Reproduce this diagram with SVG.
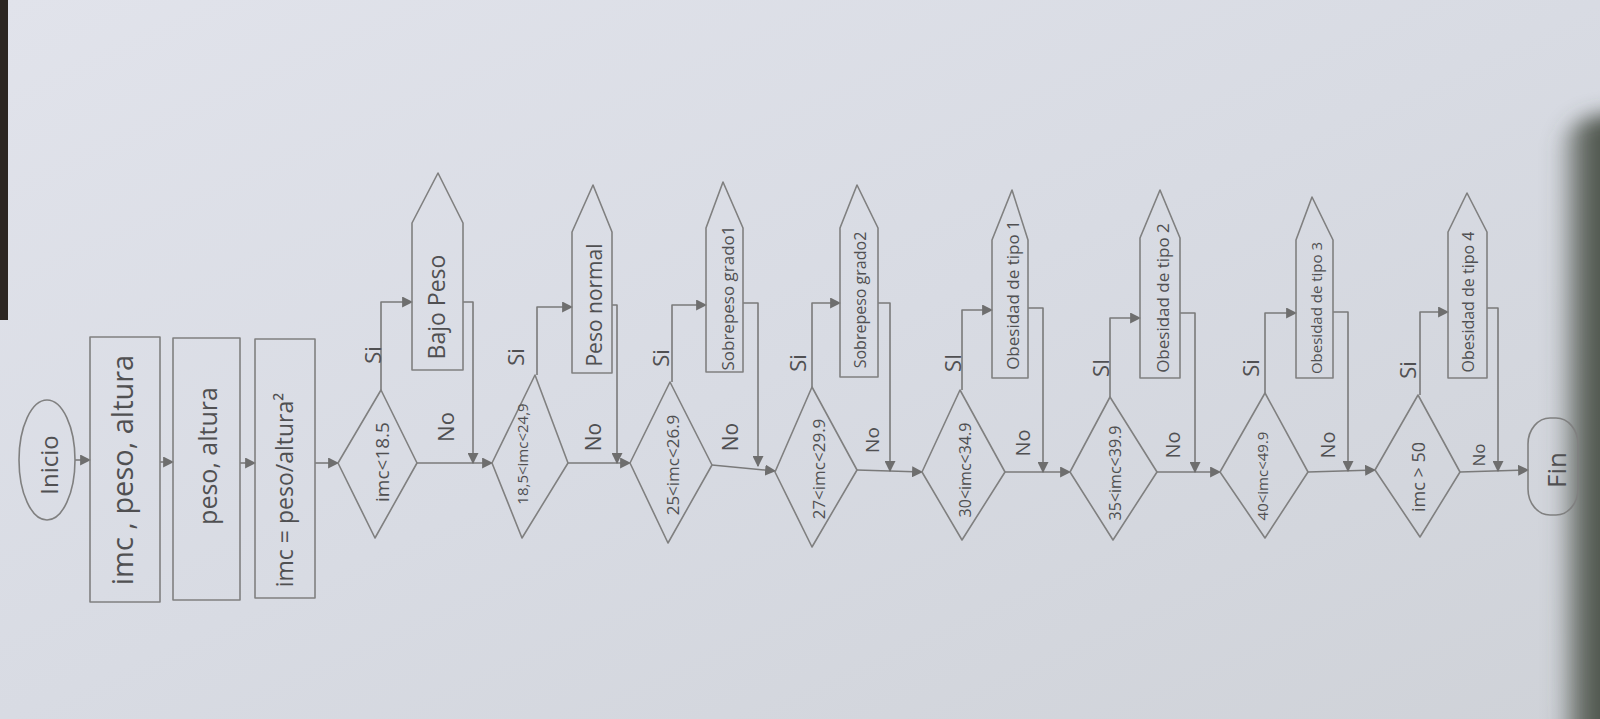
<svg xmlns="http://www.w3.org/2000/svg" width="1600" height="719" viewBox="0 0 1600 719">
<defs>
<linearGradient id="paper" x1="0" y1="0" x2="1" y2="1">
<stop offset="0" stop-color="#e1e3eb"/>
<stop offset="0.5" stop-color="#d8dbe3"/>
<stop offset="1" stop-color="#cfd2d8"/>
</linearGradient>
<linearGradient id="shade" x1="0" y1="0" x2="1" y2="0">
<stop offset="0" stop-color="#4a5147" stop-opacity="0"/>
<stop offset="0.35" stop-color="#4a5147" stop-opacity="0.85"/>
<stop offset="1" stop-color="#353b33"/>
</linearGradient>
<filter id="blur" x="-50%" y="-50%" width="200%" height="200%"><feGaussianBlur stdDeviation="10"/></filter>
<marker id="ah" viewBox="0 0 10 10" refX="9" refY="5" markerWidth="11" markerHeight="11" markerUnits="userSpaceOnUse" orient="auto">
<path d="M0,0 L10,5 L0,10 z" fill="#6e6e6e"/>
</marker>
<style>
.ln{fill:none;stroke:#7a7a7a;stroke-width:1.6;stroke-linejoin:round}
.sh{fill:none;stroke:#808080;stroke-width:1.6;stroke-linejoin:round}
.t{font-family:"Open Sans","Liberation Sans",sans-serif;fill:#505052;text-anchor:middle;dominant-baseline:central}
</style>
</defs>
<rect width="1600" height="719" fill="url(#paper)"/>
<rect x="0" y="0" width="8" height="320" fill="#2c2622"/>
<path d="M1556,150 C1565,118 1600,110 1640,115 L1640,760 L1560,760 Z" fill="url(#shade)" filter="url(#blur)"/>

<g id="connectors">
<path class="ln" d="M75,460 L90,460" marker-end="url(#ah)"/>
<path class="ln" d="M160,462 L173,462" marker-end="url(#ah)"/>
<path class="ln" d="M240,463 L255,463" marker-end="url(#ah)"/>
<path class="ln" d="M315,463 L338,463" marker-end="url(#ah)"/>

<path class="ln" d="M417,463 L492,463" marker-end="url(#ah)"/>
<path class="ln" d="M568,463 L630,463" marker-end="url(#ah)"/>
<path class="ln" d="M712,465 L775,471" marker-end="url(#ah)"/>
<path class="ln" d="M857,470 L922,472" marker-end="url(#ah)"/>
<path class="ln" d="M1005,472 L1070,472" marker-end="url(#ah)"/>
<path class="ln" d="M1157,472 L1220,472" marker-end="url(#ah)"/>
<path class="ln" d="M1308,472 L1375,470" marker-end="url(#ah)"/>
<path class="ln" d="M1460,472 L1528,470" marker-end="url(#ah)"/>

<path class="ln" d="M381,390 L381,302 L412,302" marker-end="url(#ah)"/>
<path class="ln" d="M537,375 L537,307 L572,307" marker-end="url(#ah)"/>
<path class="ln" d="M672,382 L672,305 L706,305" marker-end="url(#ah)"/>
<path class="ln" d="M812,387 L812,303 L840,303" marker-end="url(#ah)"/>
<path class="ln" d="M962,390 L962,310 L992,310" marker-end="url(#ah)"/>
<path class="ln" d="M1110,397 L1110,318 L1140,318" marker-end="url(#ah)"/>
<path class="ln" d="M1265,393 L1265,313 L1296,313" marker-end="url(#ah)"/>
<path class="ln" d="M1420,395 L1420,312 L1448,312" marker-end="url(#ah)"/>

<path class="ln" d="M463,302 L473,302 L473,463" marker-end="url(#ah)"/>
<path class="ln" d="M612,305 L617,305 L617,463" marker-end="url(#ah)"/>
<path class="ln" d="M743,303 L758,303 L758,466" marker-end="url(#ah)"/>
<path class="ln" d="M878,303 L890,303 L890,471" marker-end="url(#ah)"/>
<path class="ln" d="M1028,308 L1043,308 L1043,472" marker-end="url(#ah)"/>
<path class="ln" d="M1180,313 L1195,313 L1195,472" marker-end="url(#ah)"/>
<path class="ln" d="M1333,312 L1348,312 L1348,471" marker-end="url(#ah)"/>
<path class="ln" d="M1487,308 L1498,308 L1498,471" marker-end="url(#ah)"/>

<text class="t" font-size="22" transform="translate(372,355) rotate(-90)">Si</text>
<text class="t" font-size="22" transform="translate(515,357) rotate(-90)">Si</text>
<text class="t" font-size="22" transform="translate(660,358) rotate(-90)">Si</text>
<text class="t" font-size="22" transform="translate(797,363) rotate(-90)">Si</text>
<text class="t" font-size="22" transform="translate(952,363) rotate(-90)">SI</text>
<text class="t" font-size="22" transform="translate(1100,368) rotate(-90)">SI</text>
<text class="t" font-size="22" transform="translate(1250,368) rotate(-90)">Si</text>
<text class="t" font-size="22" transform="translate(1407,370) rotate(-90)">Si</text>

<text class="t" font-size="22" transform="translate(445,427) rotate(-90)">No</text>
<text class="t" font-size="21" transform="translate(593,437) rotate(-90)">No</text>
<text class="t" font-size="21" transform="translate(730,437) rotate(-90)">No</text>
<text class="t" font-size="19" transform="translate(872,440) rotate(-90)">No</text>
<text class="t" font-size="20" transform="translate(1022,443) rotate(-90)">No</text>
<text class="t" font-size="20" transform="translate(1172,445) rotate(-90)">No</text>
<text class="t" font-size="20" transform="translate(1327,445) rotate(-90)">No</text>
<text class="t" font-size="17" transform="translate(1478,455) rotate(-90)">No</text>
</g>

<g id="inicio">
<ellipse class="sh" cx="47" cy="460" rx="28" ry="60"/>
<text class="t" font-size="24" transform="translate(48,465) rotate(-90)">Inicio</text>
</g>
<g id="entrada">
<rect class="sh" x="90" y="337" width="70" height="265"/>
<text class="t" font-size="29" transform="translate(121,470) rotate(-90)">imc , peso, altura</text>
</g>
<g id="lectura">
<rect class="sh" x="173" y="338" width="67" height="262"/>
<text class="t" font-size="25" transform="translate(207,456) rotate(-90)">peso, altura</text>
</g>
<g id="calculo">
<rect class="sh" x="255" y="339" width="60" height="259"/>
<text class="t" font-size="23" transform="translate(284,490) rotate(-90)">imc = peso/altura²</text>
</g>

<g id="d1">
<path class="sh" d="M338,463 L381,390 L417,463 L375,538 Z"/>
<text class="t" font-size="19" transform="translate(382,462) rotate(-90)">imc&lt;18.5</text>
</g>
<g id="d2">
<path class="sh" d="M492,463 L535,375 L568,463 L522,538 Z"/>
<text class="t" font-size="15" transform="translate(522,454) rotate(-90)">18,5&lt;imc&lt;24,9</text>
</g>
<g id="d3">
<path class="sh" d="M630,463 L670,382 L712,465 L668,543 Z"/>
<text class="t" font-size="17" transform="translate(672,465) rotate(-90)">25&lt;imc&lt;26.9</text>
</g>
<g id="d4">
<path class="sh" d="M775,472 L812,387 L857,470 L812,547 Z"/>
<text class="t" font-size="17" transform="translate(818,469) rotate(-90)">27&lt;imc&lt;29.9</text>
</g>
<g id="d5">
<path class="sh" d="M922,472 L960,390 L1005,472 L962,540 Z"/>
<text class="t" font-size="16" transform="translate(965,470) rotate(-90)">30&lt;imc&lt;34.9</text>
</g>
<g id="d6">
<path class="sh" d="M1070,472 L1110,397 L1157,472 L1113,540 Z"/>
<text class="t" font-size="16" transform="translate(1115,473) rotate(-90)">35&lt;imc&lt;39.9</text>
</g>
<g id="d7">
<path class="sh" d="M1220,472 L1265,393 L1308,472 L1265,538 Z"/>
<text class="t" font-size="15" transform="translate(1262,476) rotate(-90)">40&lt;imc&lt;49.9</text>
</g>
<g id="d8">
<path class="sh" d="M1375,470 L1418,395 L1460,472 L1420,537 Z"/>
<text class="t" font-size="18" transform="translate(1418,477) rotate(-90)">imc &gt; 50</text>
</g>

<g id="r1">
<path class="sh" d="M412,370 L412,223 L438,173 L463,223 L463,370 Z"/>
<text class="t" font-size="23" transform="translate(436,307) rotate(-90)">Bajo Peso</text>
</g>
<g id="r2">
<path class="sh" d="M572,373 L572,232 L593,185 L612,232 L612,373 Z"/>
<text class="t" font-size="21" transform="translate(594,305) rotate(-90)">Peso normal</text>
</g>
<g id="r3">
<path class="sh" d="M706,372 L706,228 L723,182 L743,228 L743,372 Z"/>
<text class="t" font-size="17" transform="translate(727,298) rotate(-90)">Sobrepeso grado1</text>
</g>
<g id="r4">
<path class="sh" d="M840,377 L840,228 L857,185 L878,228 L878,377 Z"/>
<text class="t" font-size="16" transform="translate(860,300) rotate(-90)">Sobrepeso grado2</text>
</g>
<g id="r5">
<path class="sh" d="M992,378 L992,240 L1012,190 L1028,240 L1028,378 Z"/>
<text class="t" font-size="17" transform="translate(1012,295) rotate(-90)">Obesidad de tipo 1</text>
</g>
<g id="r6">
<path class="sh" d="M1140,378 L1140,238 L1160,190 L1180,238 L1180,378 Z"/>
<text class="t" font-size="17" transform="translate(1162,298) rotate(-90)">Obesidad de tipo 2</text>
</g>
<g id="r7">
<path class="sh" d="M1296,378 L1296,240 L1312,197 L1333,240 L1333,378 Z"/>
<text class="t" font-size="15" transform="translate(1316,308) rotate(-90)">Obesidad de tipo 3</text>
</g>
<g id="r8">
<path class="sh" d="M1448,378 L1448,232 L1467,193 L1487,232 L1487,378 Z"/>
<text class="t" font-size="16" transform="translate(1468,302) rotate(-90)">Obesidad de tipo 4</text>
</g>

<g id="fin">
<rect class="sh" x="1528" y="418" width="50" height="97" rx="22" ry="26"/>
<text class="t" font-size="26" transform="translate(1556,470) rotate(-90)">Fin</text>
</g>
</svg>
